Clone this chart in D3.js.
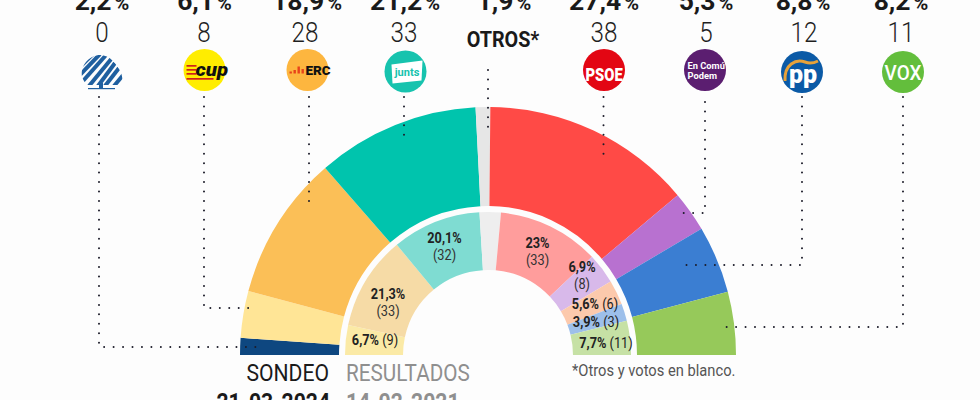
<!DOCTYPE html>
<html><head><meta charset="utf-8">
<script src="https://cdn.jsdelivr.net/npm/d3@7"></script>
<style>html,body{margin:0;padding:0;background:#fdfdfd;overflow:hidden}svg{display:block}text{font-family:Roboto,sans-serif}</style>
</head><body><svg id="c" width="980" height="400"></svg>
<script>
// ---------- data ----------
const pollParties = ["PDeCAT","CUP","ERC","Junts","Otros","PSOE","Comuns","PP","Vox"];
const pollPct     = [2.2,6.1,18.9,21.2,1.9,27.4,5.3,8.8,8.2];
const pollPctText = ["2,2","6,1","18,9","21,2","1,9","27,4","5,3","8,8","8,2"];
const pollSeats   = ["0","8","28","33",null,"38","5","12","11"];
const resultParties = ["CUP","ERC","Junts","Otros","PSOE","Comuns","Cs","PP","Vox"];
const resultPct     = [6.7,21.3,20.1,4.8,23,6.9,5.6,3.9,7.7];
const resultPctText = ["6,7%","21,3%","20,1%",null,"23%","6,9%","5,6%","3,9%","7,7%"];
const resultSeats   = ["(9)","(33)","(32)",null,"(33)","(8)","(6)","(3)","(11)"];
const otrosLabel="OTROS*", pollTitle="SONDEO", pollDate="21-03-2024",
      resultTitle="RESULTADOS", resultDate="14-02-2021", footnote="*Otros y votos en blanco.";

// ---------- style / layout ----------
const pollColors   = ["#0e4780","#ffe596","#fbbf57","#00c4ad","#e6e6e6","#ff4a46","#b871d0","#3b7ed2","#96c95a"];
const resultColors = ["#fbeaa6","#f6dba6","#7fdcd2","#eeeeee","#ff9d9c","#d8b9ea","#fcc9ac","#9dbfea","#c6e1a5"];
const cx=488, cy=355, COND=0.85;
const svg=d3.select("#c");
const pie=d3.pie().sort(null).startAngle(-Math.PI/2).endAngle(Math.PI/2);

function cond(x,y,k=COND){return svg.append("text").attr("transform",`translate(${x},${y}) scale(${k},1)`);}

const g=svg.append("g").attr("transform",`translate(${cx},${cy})`);
const outerArc=d3.arc().innerRadius(149).outerRadius(248);
const innerArc=d3.arc().innerRadius(85).outerRadius(143);
g.selectAll("path.o").data(pie(pollPct)).join("path").attr("class","o")
  .attr("d",outerArc).attr("fill",(d,i)=>pollColors[i]);
g.selectAll("path.i").data(pie(resultPct)).join("path").attr("class","i")
  .attr("d",innerArc).attr("fill",(d,i)=>resultColors[i]);

// leader lines
const leaders=[
 [[99,97],[99,347],[258,347]],
 [[204,97],[204,308],[254,308]],
 [[309,97],[309,204]],
 [[404,97],[404,140]],
 [[488,70],[488,131]],
 [[603.5,97],[603.5,159]],
 [[705,102],[705,213],[677,213]],
 [[802,97],[802,265],[678,265]],
 [[903,97],[903,327],[720,327]]
];
const line=d3.line();
svg.selectAll("path.l").data(leaders).join("path").attr("class","l").attr("d",line)
  .attr("fill","none").attr("stroke","#1c1c2a").attr("stroke-width",2)
  .attr("stroke-linecap","round").attr("stroke-dasharray","0 9.45");

// header numbers
const pctX=[102,204.5,307,405,504,604,706,803,901];
const seatX=[102,204,305,404,null,604,706,804,901];
pollPctText.forEach((t,i)=>{
  const tx=svg.append("text").attr("x",pctX[i]).attr("y",9.5).attr("text-anchor","middle")
    .attr("font-weight",700).attr("font-size",26.5).attr("fill","#1a1a1a");
  tx.append("tspan").text(t);
  tx.append("tspan").attr("font-size",20).attr("dx",3).text("%");
  if(pollSeats[i]!==null) cond(seatX[i],42).attr("text-anchor","middle").attr("font-weight",300)
    .attr("font-size",28.5).attr("fill","#1f1f1f").text(pollSeats[i]);
});
cond(503,46.5,.9).attr("text-anchor","middle").attr("font-weight",700).attr("font-size",22).attr("fill","#1a1a1a").text(otrosLabel);

// titles
cond(329,381,.92).attr("text-anchor","end").attr("font-size",23).attr("fill","#1a1a1a").text(pollTitle);
cond(330,410,.88).attr("text-anchor","end").attr("font-weight",700).attr("font-size",24).attr("fill","#1a1a1a").text(pollDate);
cond(346,381,.9).attr("font-size",23).attr("fill","#8f8f8f").text(resultTitle);
cond(346,410,.88).attr("font-weight",700).attr("font-size",24).attr("fill","#8f8f8f").text(resultDate);
cond(572,376).attr("font-size",17.3).attr("fill","#555").text(footnote);

// inner labels
const labelPos=[[375,345,1],[388,299,0],[444.5,243,0],null,[537.5,248,0],[582,272,0],[595,309,1],[596,327,1],[606,348,1]];
resultPctText.forEach((t,i)=>{
  if(!t) return; const p=labelPos[i];
  if(p[2]){
    const tx=cond(p[0],p[1]).attr("text-anchor","middle").attr("font-size",15).attr("fill","#222");
    tx.append("tspan").attr("font-weight",700).text(t);
    tx.append("tspan").text(" "+resultSeats[i]);
  }else{
    cond(p[0],p[1]).attr("text-anchor","middle").attr("font-size",15).attr("font-weight",700).attr("fill","#222").text(t);
    cond(p[0],p[1]+17).attr("text-anchor","middle").attr("font-size",15).attr("fill","#333").text(resultSeats[i]);
  }
});

// logos
const logo=(x,y,fill)=>{const l=svg.append("g").attr("transform",`translate(${x},${y})`);
  if(fill) l.append("circle").attr("r",21).attr("fill",fill); return l;};
// tree logo
{
  const l=logo(102,71,null);
  svg.append("defs").append("clipPath").attr("id","tree").append("path")
    .attr("d","M-20,6 C-22,-6 -12,-16 -2,-16 C8,-16 14,-7 17,-2 C20,2 21,8 20,14 L-16,14 C-17,11 -19,9 -20,6 Z");
  const st=l.append("g").attr("clip-path","url(#tree)");
  const strokes=[[-23,-3,-9,-17],[-23,5,-2,-17],[-19,10,5,-17],[-13,15,10,-13],[-4,15,13,-8],[3,15,17,-3],[12,15,22,3]];
  st.selectAll("line").data(strokes).join("line")
    .attr("x1",d=>d[0]).attr("y1",d=>d[1]).attr("x2",d=>d[2]).attr("y2",d=>d[3])
    .attr("stroke","#1f5f9f").attr("stroke-width",4);
  l.append("rect").attr("x",-14).attr("y",17).attr("width",27).attr("height",1.2).attr("fill","#1f5f9f");
  l.append("rect").attr("x",-3).attr("y",12).attr("width",4).attr("height",5).attr("fill","#1f5f9f");
}
// CUP
{
  const l=logo(204.5,70,"#ffed00");
  [-5,-1,3,8].forEach((y,i)=>l.append("rect").attr("x",-18).attr("y",y).attr("width",i==3?27:10).attr("height",1.7).attr("fill","#d0201c"));
  l.append("text").attr("transform","translate(-9,5.5) scale(1.08,1)").attr("font-size",19).attr("font-weight",900).attr("font-style","italic")
    .attr("fill","#111").text("cup");
}
// ERC
{
  const l=logo(307.5,70,"#fdb63f");
  [[-18,2],[-14,3.5],[-10,7],[-6,4.5]].forEach(b=>l.append("rect").attr("x",b[0]).attr("y",3.5-b[1]).attr("width",2.4).attr("height",b[1]).attr("fill","#e8431a"));
  l.append("text").attr("x",-2).attr("y",5).attr("font-size",13.5).attr("font-weight",900).attr("fill","#111").text("ERC");
}
// Junts
{
  const l=logo(405.5,71.5,"#17c3ae");
  l.append("path").attr("d","M-14,-7 L17,-11 L16,9 L-13,12 Z").attr("fill","#fff");
  l.append("text").attr("x",1.5).attr("y",4.5).attr("text-anchor","middle").attr("font-size",11).attr("font-weight",700).attr("fill","#17c3ae").text("junts");
}
// PSOE
{
  const l=logo(604,70,"#e30613");
  l.append("text").attr("transform","translate(0,11) scale(.82,1)").attr("text-anchor","middle").attr("font-size",18).attr("font-weight",900).attr("fill","#fff").text("PSOE");
}
// Comuns
{
  const l=logo(705,70,"#5b1e70");
  l.append("text").attr("x",-17.5).attr("y",-1.5).attr("font-size",9.3).attr("font-weight",700).attr("fill","#fff").text("En Comú");
  l.append("text").attr("x",-17.5).attr("y",8.5).attr("font-size",9.3).attr("font-weight",700).attr("fill","#fff").text("Podem");
}
// PP
{
  const l=logo(802,72,"#0b5aa6");
  l.append("path").attr("d","M-17,9 C-18,-8 -6,-13 3,-10 C8,-8 12,-9 16,-11").attr("fill","none").attr("stroke","#e8a23a").attr("stroke-width",3);
  l.append("text").attr("x",1).attr("y",11).attr("text-anchor","middle").attr("font-size",25).attr("font-weight",900).attr("fill","#fff").text("pp");
}
// Vox
{
  const l=logo(903,72,"#63be3c");
  l.append("text").attr("transform","translate(0,7.5) scale(.9,1)").attr("text-anchor","middle").attr("font-size",21).attr("font-weight",500).attr("fill","#fff").text("VOX");
}
</script></body></html>
